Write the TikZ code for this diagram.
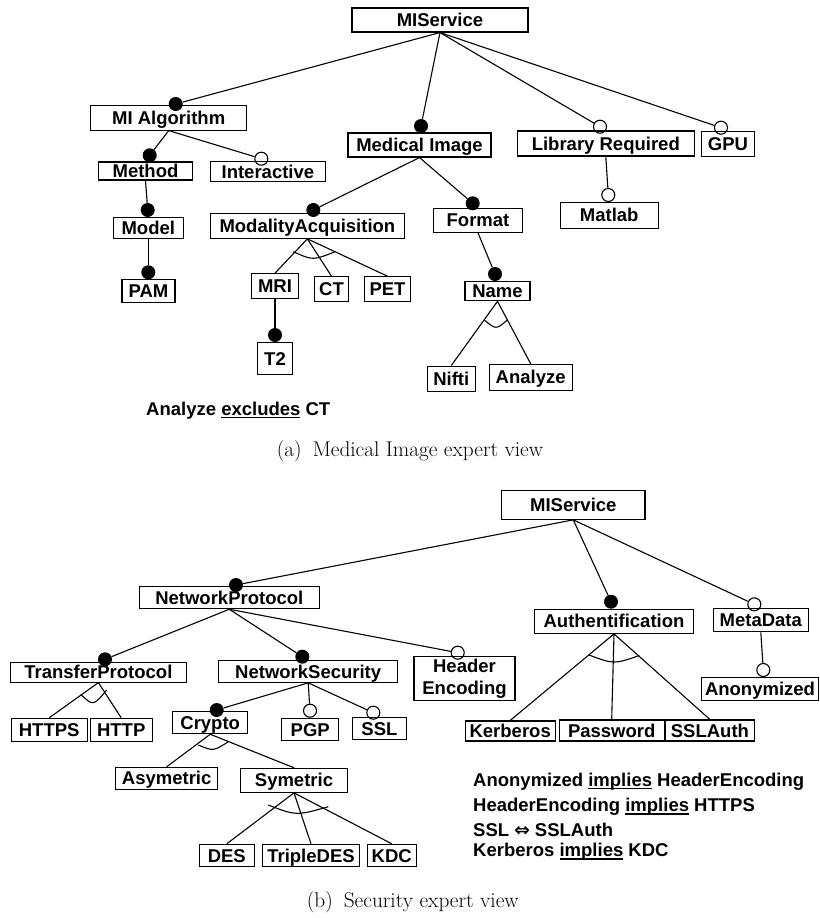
\documentclass[tikz,border=0pt]{standalone}
\usepackage{fontspec}
\newfontfamily\fdsans{Liberation Sans}
\newfontfamily\symfont{DejaVu Sans}
% underline with a fixed offset below the baseline
\newcommand\ulw[1]{\setbox0\hbox{#1}\rlap{\rule[-2.8pt]{\wd0}{1.3pt}}\box0\relax}
\begin{document}
\begin{tikzpicture}[x=1pt,y=-1pt,
  fd/.style={draw, line width=1.1pt, inner sep=0pt,
    font=\fdsans\bfseries\fontsize{18.5}{21.7}\selectfont},
  feat/.style={fd, text height=13.2pt, text depth=0pt},
  mandc/.style={circle, fill=black, inner sep=0pt, minimum size=14pt},
  optc/.style={circle, draw, line width=1.1pt, inner sep=0pt, minimum size=13pt},
  edge/.style={line width=1.1pt},
  grp/.style={line width=1.1pt},
  cons/.style={anchor=base west, inner sep=0pt,
    font=\fdsans\bfseries\fontsize{18.5}{21.7}\selectfont},
  capt/.style={anchor=base west, inner sep=0pt,
    font=\rmfamily\fontsize{21.3}{25}\selectfont}]
\useasboundingbox (0,0) rectangle (819,918);

% ---------------- (a) feature model ----------------
\node[feat, minimum width=176pt,   minimum height=24pt]   (svcA)    at (440,20)      {MIService};
\node[feat, minimum width=156pt,   minimum height=24.3pt] (alg)     at (168.7,117.9) {MI Algorithm};
\node[feat, minimum width=143pt,   minimum height=24pt]   (med)     at (419.5,145)   {Medical Image};
\node[feat, minimum width=177pt,   minimum height=25pt]   (lib)     at (605.8,143.5) {Library Required};
\node[feat, minimum width=52.6pt,  minimum height=25.7pt] (gpu)     at (728,143.9)   {GPU};
\node[feat, minimum width=93.6pt,  minimum height=18pt]   (meth)    at (145.5,171)   {Method};
\node[feat, minimum width=115.7pt, minimum height=20.7pt] (inter)   at (267.9,171.4) {Interactive};
\node[feat, minimum width=70pt,    minimum height=20.6pt] (model)   at (148.3,228)   {Model};
\node[feat, minimum width=53pt,    minimum height=23pt]   (pam)     at (148.5,290.8) {PAM};
\node[feat, minimum width=193.3pt, minimum height=25pt]   (modacq)  at (307.4,225.8) {ModalityAcquisition};
\node[feat, minimum width=89.4pt,  minimum height=24pt]   (fmt)     at (478,220.3)   {Format};
\node[feat, minimum width=98.3pt,  minimum height=26pt]   (mat)     at (609.2,215.3) {Matlab};
\node[feat, minimum width=46.6pt,  minimum height=24.6pt] (mri)     at (275,286)     {MRI};
\node[feat, minimum width=33.6pt,  minimum height=24.3pt] (ct)      at (331.5,288.9) {CT};
\node[feat, minimum width=46.4pt,  minimum height=24.3pt] (pet)     at (387.5,288.9) {PET};
\node[feat, minimum width=65pt,    minimum height=19.7pt] (name)    at (497.5,290.9) {Name};
\node[feat, minimum width=35.4pt,  minimum height=31.6pt] (t2)      at (275,358.5)   {T2};
\node[feat, minimum width=48pt,    minimum height=25.7pt] (nifti)   at (451.3,378.9) {Nifti};
\node[feat, minimum width=82.7pt,  minimum height=25.7pt] (analyze) at (530.7,377.2) {Analyze};

\node[mandc] (cAlg)   at (175.7,104)   {};
\node[mandc] (cMed)   at (421,126)     {};
\node[optc]  (cLib)   at (600,126.7)   {};
\node[optc]  (cGpu)   at (721,127.7)   {};
\node[mandc] (cMeth)  at (149.7,155.3) {};
\node[optc]  (cInter) at (261.3,158.7) {};
\node[mandc] (cModel) at (147.7,210)   {};
\node[mandc] (cPam)   at (148.3,272.3) {};
\node[mandc] (cMod)   at (313.3,210)   {};
\node[mandc] (cFmt)   at (472.7,203.3) {};
\node[optc]  (cMat)   at (608.3,195)   {};
\node[mandc] (cName)  at (495,274)     {};
\node[mandc] (cT2)    at (275,335)     {};

\draw[edge] (svcA.south) -- (cAlg);
\draw[edge] (svcA.south) -- (cMed);
\draw[edge] (svcA.south) -- (cLib);
\draw[edge] (svcA.south) -- (cGpu);
\draw[edge] (alg.south) -- (cMeth);
\draw[edge] (alg.south) -- (cInter);
\draw[edge] (meth.south) -- (cModel);
\draw[edge] (model.south) -- (cPam);
\draw[edge] (med.south) -- (cMod);
\draw[edge] (med.south) -- (cFmt);
\draw[edge] (lib.south) -- (cMat);
\draw[edge] (modacq.south) -- (mri.north);
\draw[edge] (modacq.south) -- (ct.north);
\draw[edge] (modacq.south) -- (pet.north);
\draw[edge] (mri.south) -- (cT2);
\draw[edge] (fmt.south) -- (cName);
\draw[edge] (name.south) -- (nifti.north);
\draw[edge] (name.south) -- (analyze.north);

% alternative groups
\draw[grp] (293.3,251.7) .. controls (313,260.5) .. (335,251.7);
\draw[grp] (484.3,320) .. controls (496.1,329.7) .. (507.3,320);

\node[cons] (consA) at (146,415.3) {Analyze \ulw{excludes} CT};
\node[capt] (captA) at (276.7,456.7) {(a)\hskip 11pt Medical Image expert view};

% ---------------- (b) feature model ----------------
\node[feat, minimum width=143.3pt, minimum height=28.6pt] (svcB)    at (573.3,505)   {MIService};
\node[feat, minimum width=180pt,   minimum height=22pt]   (np)      at (229.3,597.7) {NetworkProtocol};
\node[feat, minimum width=158.6pt, minimum height=24.3pt] (auth)    at (614,621.2)   {Authentification};
\node[feat, minimum width=95pt,    minimum height=23.4pt] (meta)    at (760.8,620)   {MetaData};
\node[feat, minimum width=116.6pt, minimum height=22.7pt] (anon)    at (760,688.7)   {Anonymized};
\node[fd, align=center, minimum width=101pt, minimum height=44.7pt] (hdr) at (464.5,678.4) {Header\\Encoding};
\node[feat, minimum width=175.3pt, minimum height=19.7pt] (tp)      at (98.4,672.2)  {TransferProtocol};
\node[feat, minimum width=179pt,   minimum height=21.6pt] (ns)      at (308.2,671.5) {NetworkSecurity};
\node[feat, minimum width=76.3pt,  minimum height=22.7pt] (https)   at (49.2,729.7)  {HTTPS};
\node[feat, minimum width=62.3pt,  minimum height=22.7pt] (http)    at (121.2,729.7) {HTTP};
\node[feat, minimum width=75pt,    minimum height=22pt]   (cry)     at (210.2,722.7) {Crypto};
\node[feat, minimum width=57pt,    minimum height=22pt]   (pgp)     at (310.2,729.7) {PGP};
\node[feat, minimum width=53.3pt,  minimum height=21.6pt] (ssl)     at (379.4,728.5) {SSL};
\node[feat, minimum width=102pt,   minimum height=21.7pt] (asym)    at (166.7,778.2) {Asymetric};
\node[feat, minimum width=107.4pt, minimum height=24pt]   (sym)     at (294,780.3)   {Symetric};
\node[feat, minimum width=55pt,    minimum height=22.4pt] (des)     at (226.8,855.5) {DES};
\node[feat, minimum width=96.6pt,  minimum height=22.4pt] (tdes)    at (311,855.5)   {TripleDES};
\node[feat, minimum width=48.7pt,  minimum height=22.4pt] (kdc)     at (391.7,855.5) {KDC};
\node[feat, minimum width=90.3pt,  minimum height=20pt]   (kerb)    at (510.2,731)   {Kerberos};
\node[feat, minimum width=104.7pt, minimum height=21pt]   (pass)    at (611.7,730.5) {Password};
\node[feat, minimum width=88.3pt,  minimum height=21pt]   (sslauth) at (709.9,730.5) {SSLAuth};

\node[mandc] (cNp)   at (236,585)     {};
\node[mandc] (cAuth) at (611,601.7)   {};
\node[optc]  (cMeta) at (754.3,604.3) {};
\node[mandc] (cTp)   at (105,659.3)   {};
\node[mandc] (cNs)   at (302.3,656.7) {};
\node[optc]  (cHdr)  at (457.7,652.7) {};
\node[mandc] (cCry)  at (216.7,710)   {};
\node[optc]  (cPgp)  at (310,710.7)   {};
\node[optc]  (cSsl)  at (373.3,712.7) {};
\node[optc]  (cAnon) at (763.3,670)   {};

\draw[edge] (svcB.south) -- (cNp);
\draw[edge] (svcB.south) -- (cAuth);
\draw[edge] (svcB.south) -- (cMeta);
\draw[edge] (np.south) -- (cTp);
\draw[edge] (np.south) -- (cNs);
\draw[edge] (np.south) -- (cHdr);
\draw[edge] (ns.south) -- (cCry);
\draw[edge] (ns.south) -- (cPgp);
\draw[edge] (ns.south) -- (cSsl);
\draw[edge] (tp.south) -- (https.north);
\draw[edge] (tp.south) -- (http.north);
\draw[edge] (cry.south) -- (asym.north);
\draw[edge] (cry.south) -- (sym.north);
\draw[edge] (sym.south) -- (des.north);
\draw[edge] (sym.south) -- (tdes.north);
\draw[edge] (sym.south) -- (kdc.north);
\draw[edge] (auth.south) -- (kerb.north);
\draw[edge] (auth.south) -- (pass.north);
\draw[edge] (auth.south) -- (sslauth.north);
\draw[edge] (meta.south) -- (cAnon);

% alternative groups
\draw[grp] (80.7,694.3) .. controls (93.2,706.2) .. (106.7,690);
\draw[grp] (589,655) .. controls (614,664.3) .. (639.3,655.5);
\draw[grp] (198.3,745) .. controls (213.3,751.3) .. (228.3,741.7);
\draw[grp] (268.3,805) .. controls (296.2,815.8) .. (328.3,806.7);

\node[cons] (consB1) at (473,786)   {Anonymized \ulw{implies} HeaderEncoding};
\node[cons] (consB2) at (473,811.7) {HeaderEncoding \ulw{implies} HTTPS};
\node[cons] (consB3) at (473,836)   {SSL {\symfont\bfseries ⇔} SSLAuth};
\node[cons] (consB4) at (473,856.7) {Kerberos \ulw{implies} KDC};
\node[capt] (captB) at (306.7,907.3) {(b)\hskip 11pt Security expert view};
\end{tikzpicture}
\end{document}
